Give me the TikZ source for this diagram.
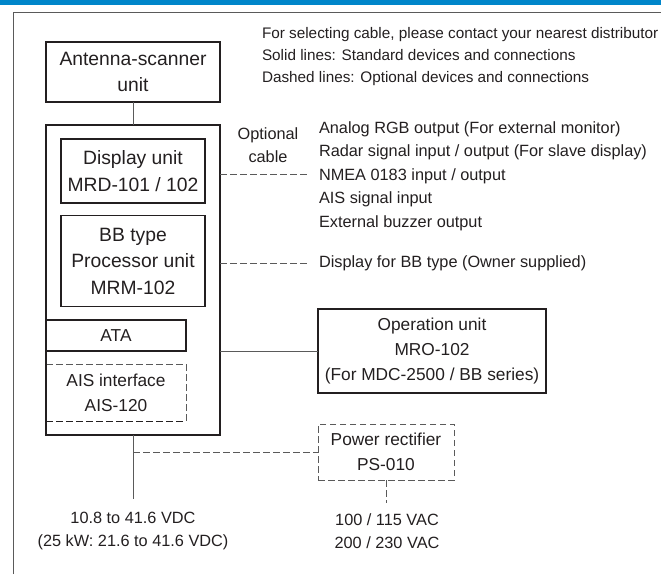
\documentclass[tikz,border=0pt]{standalone}
\usepackage{fontspec}
\setmainfont{Liberation Sans}
\definecolor{barblue}{RGB}{0,134,202}
\definecolor{inkgray}{RGB}{35,31,32}
\definecolor{linegray}{RGB}{90,90,90}
\begin{document}
\begin{tikzpicture}[
		x=1pt, y=-1pt,
		every node/.style={text=inkgray, inner sep=0pt, outer sep=0pt},
		unit/.style={draw=inkgray, line width=1.3pt, align=center},
		bigtext/.style={font=\fontsize{19.3}{26.5}\selectfont},
		midtext/.style={font=\fontsize{17.3}{25}\selectfont},
		smalltext/.style={font=\fontsize{16.3}{23.5}\selectfont},
		notetext/.style={font=\fontsize{15.3}{22}\selectfont},
		conn/.style={draw=linegray, line width=1pt},
		optconn/.style={conn, dash pattern=on 6.5pt off 3.5pt},
		optbox/.style={draw=linegray, line width=1pt, dash pattern=on 6.5pt off 3.5pt}
		]
	\useasboundingbox (0,0) rectangle (661,574);
	
	% Header bar and frame
	\fill[barblue] (0,0) rectangle (661,5);
	\draw[draw=linegray, line width=1pt] (13,574) -- (13,12) -- (661,12);
	
	% Notes
	\node[notetext, anchor=west, align=left] (notes) at (262,57)
		{For selecting cable, please contact your nearest distributor\\
		 Solid lines: Standard devices and connections\\
		 Dashed lines: Optional devices and connections};
	
	% Antenna
	\node[unit, bigtext, minimum width=174pt, minimum height=60pt] (antenna) at (133,72) {Antenna-scanner\\unit};
	
	% Inner units
	\node[unit, bigtext, minimum width=144pt, minimum height=64pt] (display) at (133,171) {Display unit\\MRD-101 / 102};
	\node[unit, bigtext, minimum width=144pt, minimum height=91pt] (processor) at (133,261) {BB type\\Processor unit\\MRM-102};
	\node[unit, midtext, minimum width=140pt, minimum height=31pt] (ata) at (116,335.5) {ATA};
	\node[midtext, align=center, minimum width=140pt, minimum height=57pt] (ais) at (116,392.5) {AIS interface\\AIS-120};
	\draw[optbox] (ais.north west) -- (ais.north east) -- (ais.south east);
	\draw[inkgray, line width=1pt, dash pattern=on 6.5pt off 3.5pt] (ais.south west) -- (ais.south east);
	
	% Main unit
	\node[unit, minimum width=174pt, minimum height=310pt] (mainunit) at (133,280) {};
	
	% Operation unit
	\node[unit, midtext, minimum width=228pt, minimum height=84pt] (operation) at (432,351)
		{Operation unit\\MRO-102\\(For MDC-2500 / BB series)};
	
	% Power rectifier
	\node[optbox, midtext, align=center, minimum width=136pt, minimum height=56pt] (rectifier) at (386,452)
		{Power rectifier\\PS-010};
	
	% Optional cable outputs
	\node[smalltext, align=center] (optcable) at (268,145) {Optional\\cable};
	\coordinate (optend) at (310,174);
	\node[smalltext, anchor=west, align=left] (outputs) at (319,176)
		{Analog RGB output (For external monitor)\\
		 Radar signal input / output (For slave display)\\
		 NMEA 0183 input / output\\
		 AIS signal input\\
		 External buzzer output};
	\coordinate (bbend) at (310,263);
	\node[smalltext, anchor=west] (bbdisplay) at (319,263) {Display for BB type (Owner supplied)};
	
	% Power supply
	\coordinate (vdcend) at (133,499);
	\coordinate (vacend) at (386,503);
	\node[smalltext, align=center] (vdc) at (133,531) {10.8 to 41.6 VDC\\(25 kW: 21.6 to 41.6 VDC)};
	\node[smalltext, align=center] (vac) at (387,531) {100 / 115 VAC\\200 / 230 VAC};
	
	% Connections
	\draw[conn] (antenna.south) -- (mainunit.north);
	\draw[conn] (mainunit.east |- operation.west) -- (operation.west);
	\draw[conn] (mainunit.south) -- (vdcend);
	\draw[optconn] (mainunit.south |- rectifier.west) -- (rectifier.west);
	\draw[optconn] (rectifier.south) -- (vacend);
	\draw[optconn] (mainunit.east |- optend) -- (optend);
	\draw[optconn] (mainunit.east |- bbend) -- (bbend);
	
\end{tikzpicture}
\end{document}
